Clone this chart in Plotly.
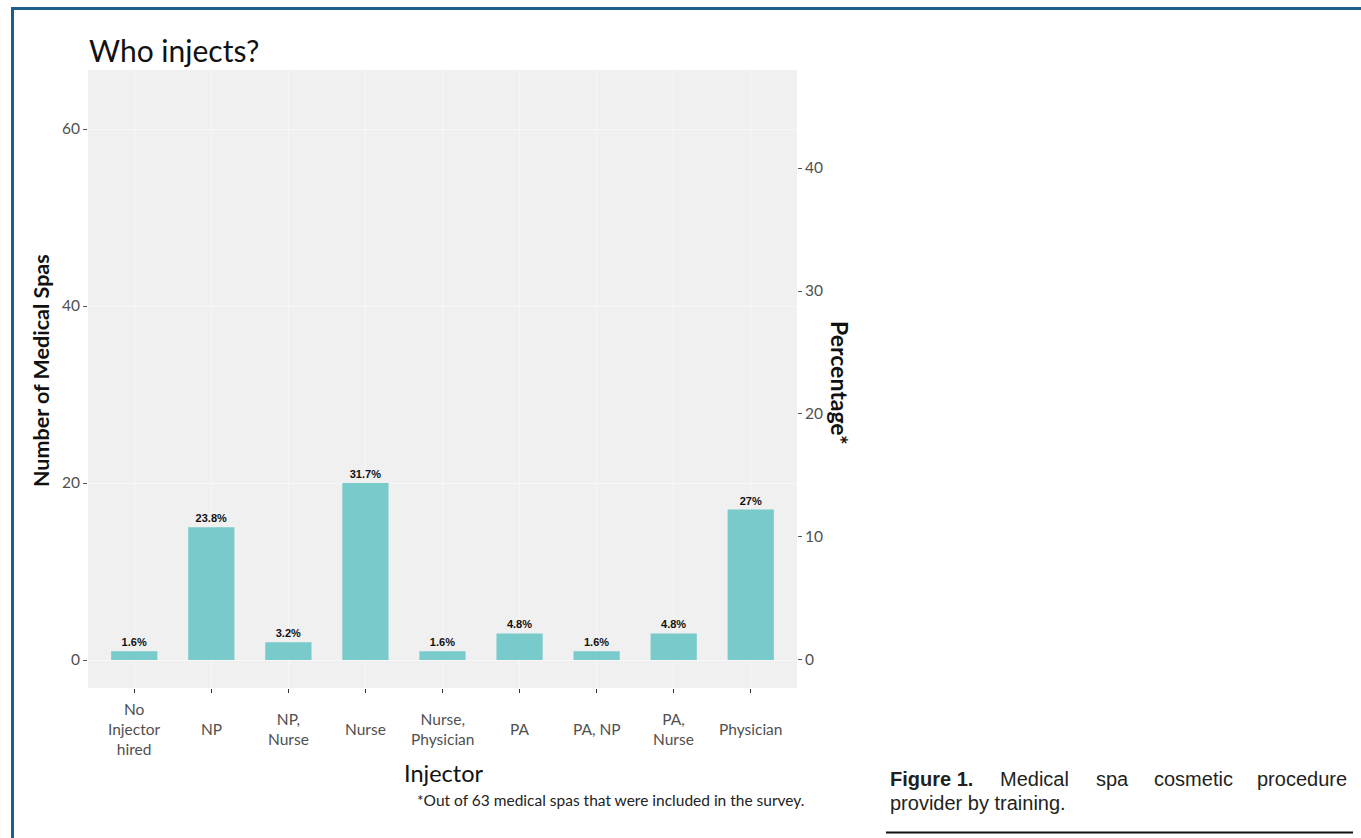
import plotly.graph_objects as go

categories = ["No Injector hired", "NP", "NP, Nurse", "Nurse", "Nurse, Physician",
              "PA", "PA, NP", "PA, Nurse", "Physician"]
tick_text = ["No<br>Injector<br>hired", "NP", "NP,<br>Nurse", "Nurse", "Nurse,<br>Physician",
             "PA", "PA, NP", "PA,<br>Nurse", "Physician"]
counts = [1, 15, 2, 20, 1, 3, 1, 3, 17]
pct_labels = ["1.6%", "23.8%", "3.2%", "31.7%", "1.6%", "4.8%", "1.6%", "4.8%", "27%"]
pct_values = [1.6, 23.8, 3.2, 31.7, 1.6, 4.8, 1.6, 4.8, 27.0]
left_ticks = [0, 20, 40, 60]
right_ticks = [0, 10, 20, 30, 40]

W, H = 1361, 838
def px(x): return x / W
def py(y): return 1 - y / H

FONT = "Lato"
BAR = "#79CBCB"
TICK_C = "#505050"

fig = go.Figure()
fig.add_trace(go.Bar(
    x=categories, y=counts, width=0.6, marker=dict(color=BAR, line=dict(width=0)),
    text=pct_labels, texttemplate="<b>%{text}</b>", textposition="outside",
    textfont=dict(family="Liberation Sans", size=11, color="#111111"),
    cliponaxis=False, showlegend=False, hoverinfo="skip"))
fig.add_trace(go.Scatter(
    x=categories, y=pct_values, yaxis="y2", mode="markers",
    marker=dict(opacity=0), showlegend=False, hoverinfo="skip"))

y_lo, y_hi = -3.16, 66.67
y2_lo, y2_hi = -2.28, 47.97

fig.update_layout(
    width=W, height=H, margin=dict(l=0, r=0, t=0, b=0),
    paper_bgcolor="white", plot_bgcolor="#F0F0F0",
    xaxis=dict(domain=[px(88), px(797)], range=[-0.6, 8.6],
               showgrid=True, gridcolor="#F7F7F7", gridwidth=1,
               ticks="outside", ticklen=4, tickcolor="#333333",
               showticklabels=False, zeroline=False, showline=False),
    yaxis=dict(domain=[py(688), py(70)], range=[y_lo, y_hi],
               tickvals=left_ticks, ticks="outside", ticklen=4, tickcolor="#555555",
               tickfont=dict(family=FONT, size=15.5, color=TICK_C),
               showgrid=True, gridcolor="#F7F7F7", gridwidth=1, zeroline=False),
    yaxis2=dict(overlaying="y", side="right", range=[y2_lo, y2_hi], anchor="x",
                tickvals=right_ticks, ticks="outside", ticklen=4, tickcolor="#555555",
                tickfont=dict(family=FONT, size=15.5, color=TICK_C),
                showgrid=False, zeroline=False),
)

ann = []
for c, t in zip(categories, tick_text):
    ann.append(dict(x=c, xref="x", y=py(729), yref="paper", text=t, showarrow=False,
                    xanchor="center", yanchor="middle",
                    font=dict(family=FONT, size=15.5, color=TICK_C)))
ann += [
    dict(x=px(87), y=py(50), xref="paper", yref="paper", text="Who injects?", showarrow=False,
         xanchor="left", yanchor="middle", font=dict(family=FONT, size=30, color="#111111")),
    dict(x=px(41), y=py(371), xref="paper", yref="paper", text="<b>Number of Medical Spas</b>",
         showarrow=False, textangle=-90, xanchor="center", yanchor="middle",
         font=dict(family=FONT, size=21.5, color="#111111")),
    dict(x=px(444), y=py(773), xref="paper", yref="paper", text="Injector", showarrow=False,
         xanchor="center", yanchor="middle", font=dict(family=FONT, size=23.5, color="#111111")),
    dict(x=px(806), y=py(800), xref="paper", yref="paper",
         text="*Out of 63 medical spas that were included in the survey.", showarrow=False,
         xanchor="right", yanchor="middle", font=dict(family=FONT, size=15.5, color="#222222")),
    dict(x=px(840), y=py(383), xref="paper", yref="paper", text="<b>Percentage*</b>",
         showarrow=False, textangle=90, xanchor="center", yanchor="middle",
         font=dict(family=FONT, size=23, color="#111111")),
]
cap_font = dict(family="Liberation Sans", size=20, color="#231F20")
line1 = [("<b>Figure 1.</b>", 888, "left"), ("Medical", 998, "left"), ("spa", 1094, "left"),
         ("cosmetic", 1152, "left"), ("procedure", 1349, "right")]
for txt, xx, anc in line1:
    ann.append(dict(x=px(xx), y=py(779), xref="paper", yref="paper", text=txt, showarrow=False,
                    xanchor=anc, yanchor="middle", font=cap_font))
ann.append(dict(x=px(888), y=py(803), xref="paper", yref="paper", text="provider by training.",
                showarrow=False, xanchor="left", yanchor="middle", font=cap_font))
fig.update_layout(annotations=ann)

shapes = [
    dict(type="line", xref="paper", yref="paper", x0=px(11), x1=1, y0=py(8.5), y1=py(8.5),
         line=dict(color="#1B5F8E", width=3)),
    dict(type="line", xref="paper", yref="paper", x0=px(12.5), x1=px(12.5), y0=py(7), y1=0,
         line=dict(color="#1B5F8E", width=3)),
    dict(type="line", xref="paper", yref="paper", x0=px(886), x1=px(1353), y0=py(832.5), y1=py(832.5),
         line=dict(color="#111111", width=2)),
]
fig.update_layout(shapes=shapes)

fig.write_html("out.html")
